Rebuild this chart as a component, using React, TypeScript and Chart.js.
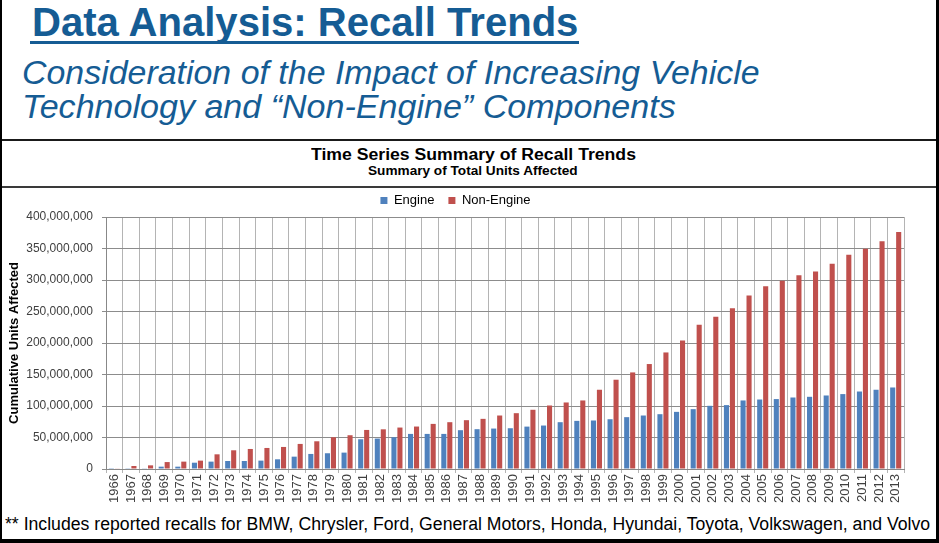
import React, { useEffect, useLayoutEffect, useRef, useState } from 'react';
import { Chart, registerables } from 'chart.js';

Chart.register(...registerables);

const years = [
  '1966', '1967', '1968', '1969', '1970', '1971', '1972', '1973', '1974', '1975',
  '1976', '1977', '1978', '1979', '1980', '1981', '1982', '1983', '1984', '1985',
  '1986', '1987', '1988', '1989', '1990', '1991', '1992', '1993', '1994', '1995',
  '1996', '1997', '1998', '1999', '2000', '2001', '2002', '2003', '2004', '2005',
  '2006', '2007', '2008', '2009', '2010', '2011', '2012', '2013',
];

const engineUnits = [
  300000, 400000, 500000, 3700000, 3700000, 10000000, 11700000, 12700000, 12700000, 13300000,
  15400000, 19600000, 23900000, 25000000, 26000000, 47200000, 48300000, 50400000, 55700000, 55700000,
  55700000, 61600000, 63200000, 64200000, 64700000, 67300000, 69000000, 74300000, 76400000, 77000000,
  79000000, 82300000, 84900000, 87000000, 90700000, 95000000, 100300000, 101400000, 108800000, 110300000,
  111000000, 113500000, 114600000, 116700000, 118900000, 123000000, 125800000, 129400000,
];

const nonEngineUnits = [
  600000, 4800000, 5800000, 11000000, 11700000, 13300000, 23300000, 29700000, 31800000, 33400000,
  35000000, 39800000, 44000000, 50400000, 53600000, 62000000, 63000000, 65800000, 67400000, 71600000,
  74300000, 77500000, 79600000, 84900000, 88600000, 94000000, 100800000, 105600000, 108800000, 125800000,
  141700000, 153300000, 166600000, 185000000, 204000000, 229000000, 241500000, 255000000, 275400000, 290000000,
  298800000, 307700000, 313600000, 325900000, 340200000, 349800000, 361400000, 376200000,
];

const seriesNames = ['Engine', 'Non-Engine'];
const yMax = 400000000;
const yStep = 50000000;

const pageTitle = 'Data Analysis: Recall Trends';
const pageSubtitle1 = 'Consideration of the Impact of Increasing Vehicle';
const pageSubtitle2 = 'Technology and \u201cNon-Engine\u201d Components';
const chartTitle = 'Time Series Summary of Recall Trends';
const chartSubtitle = 'Summary of Total Units Affected';
const yAxisTitle = 'Cumulative Units Affected';
const footnote = '** Includes reported recalls for BMW, Chrysler, Ford, General Motors, Honda, Hyundai, Toyota, Volkswagen, and Volvo';

const FONT = "'Liberation Sans', Arial, Helvetica, sans-serif";
const BLUE_TEXT = '#155c94';

type FitProps = {
  text: string;
  left: number;
  top: number;
  width: number;
  size: number;
  color: string;
  bold?: boolean;
  italic?: boolean;
};

function FitText({ text, left, top, width, size, color, bold, italic }: FitProps) {
  const ref = useRef<HTMLSpanElement>(null);
  const [scale, setScale] = useState(1);
  useLayoutEffect(() => {
    const el = ref.current;
    if (!el) return;
    const w = el.offsetWidth;
    if (w > 0) setScale(width / w);
  }, [text, width, size]);
  return (
    <span
      ref={ref}
      style={{
        position: 'absolute',
        left,
        top,
        display: 'inline-block',
        whiteSpace: 'nowrap',
        fontFamily: FONT,
        fontSize: size,
        lineHeight: 1,
        fontWeight: bold ? 700 : 400,
        fontStyle: italic ? 'italic' : 'normal',
        color,
        transform: `scaleX(${scale})`,
        transformOrigin: '0 0',
      }}
    >
      {text}
    </span>
  );
}

function RecallChart() {
  const canvasRef = useRef<HTMLCanvasElement>(null);
  useEffect(() => {
    const canvas = canvasRef.current;
    if (!canvas) return;
    Chart.defaults.font.family = FONT;
    const chart = new Chart(canvas, {
      type: 'bar',
      data: {
        labels: years,
        datasets: [
          {
            label: seriesNames[0],
            data: engineUnits,
            backgroundColor: '#4f81bd',
            borderWidth: 0,
            barPercentage: 0.85,
            categoryPercentage: 0.72,
          },
          {
            label: seriesNames[1],
            data: nonEngineUnits,
            backgroundColor: '#c0504d',
            borderWidth: 0,
            barPercentage: 0.85,
            categoryPercentage: 0.72,
          },
        ],
      },
      options: {
        responsive: false,
        animation: false,
        devicePixelRatio: 1,
        layout: { padding: { left: 7, right: 32, top: 0, bottom: 0 } },
        plugins: {
          legend: {
            display: true,
            position: 'top',
            labels: {
              boxWidth: 7,
              boxHeight: 7,
              padding: 14,
              color: '#000',
              font: { size: 13 },
            },
          },
          tooltip: { enabled: false },
          title: { display: false },
        },
        scales: {
          x: {
            afterFit: (scale: any) => {
              scale.height = 41;
            },
            ticks: {
              autoSkip: false,
              minRotation: 90,
              maxRotation: 90,
              padding: 1,
              color: '#404040',
              font: { size: 13 },
            },
            grid: {
              color: '#b4b4b4',
              lineWidth: 1,
              tickLength: 4,
              offset: true,
            },
            border: { color: '#888888', width: 1 },
          },
          y: {
            min: 0,
            max: yMax,
            afterFit: (scale: any) => {
              scale.width = 99;
            },
            ticks: {
              stepSize: yStep,
              padding: 9,
              color: '#404040',
              font: { size: 12 },
              callback: (v: any) => Number(v).toLocaleString('en-US'),
            },
            grid: {
              color: '#8c8c8c',
              lineWidth: 1,
              tickLength: 4,
            },
            border: { color: '#888888', width: 1 },
            title: {
              display: true,
              text: yAxisTitle,
              color: '#000',
              font: { size: 13, weight: 'bold' },
              padding: { top: 0, bottom: 0 },
            },
          },
        },
      },
    });
    return () => chart.destroy();
  }, []);
  return (
    <canvas
      ref={canvasRef}
      width={936}
      height={330}
      style={{ position: 'absolute', left: 0, top: 180, width: 936, height: 330 }}
    />
  );
}

export default function App() {
  return (
    <div
      style={{
        position: 'fixed',
        left: 0,
        top: 0,
        width: 939,
        height: 543,
        background: '#ffffff',
        overflow: 'hidden',
      }}
    >
      <FitText text={pageTitle} left={32} top={2} width={546} size={40} color={BLUE_TEXT} bold />
      <div style={{ position: 'absolute', left: 30, top: 41, width: 549, height: 3, background: BLUE_TEXT }} />
      <FitText text={pageSubtitle1} left={22} top={55} width={738} size={34} color={BLUE_TEXT} italic />
      <FitText text={pageSubtitle2} left={22} top={89} width={654} size={34} color={BLUE_TEXT} italic />

      <FitText text={chartTitle} left={311} top={147} width={325} size={16} color="#000" bold />
      <FitText text={chartSubtitle} left={368} top={165} width={210} size={12} color="#000" bold />

      <RecallChart />

      <FitText text={footnote} left={5} top={515} width={925} size={18} color="#000" />

      <div style={{ position: 'absolute', left: 0, top: 139, width: 939, height: 2, background: '#1a1a1a' }} />
      <div style={{ position: 'absolute', left: 0, top: 186, width: 939, height: 2, background: '#3a3a3a' }} />
      <div style={{ position: 'absolute', left: 0, top: 0, width: 2, height: 543, background: '#000' }} />
      <div style={{ position: 'absolute', left: 936, top: 0, width: 3, height: 543, background: '#000' }} />
      <div style={{ position: 'absolute', left: 0, top: 539, width: 939, height: 4, background: '#000' }} />
    </div>
  );
}
